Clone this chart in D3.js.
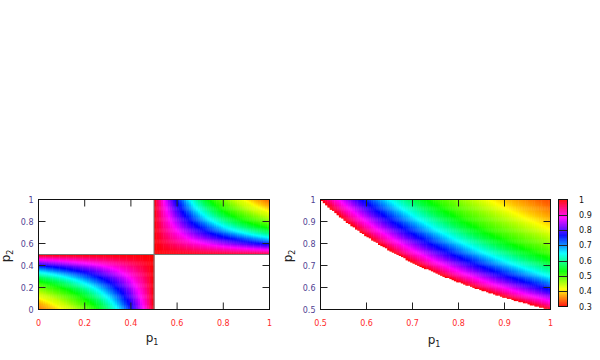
<!DOCTYPE html>
<html lang="en">
<head>
<meta charset="UTF-8">
<title>p1 p2 maps</title>
<script src="https://d3js.org/d3.v7.min.js"></script>
<style>
    body { margin: 0; background: #fff; }
    svg text { font-family: "DejaVu Sans", sans-serif; }
</style>
</head>
<body>
<svg width="600" height="360"></svg>
<script>
// right panel: value read along p1*p2 (white where p1*p2 < 0.5)
var prodSteps  = [0.5, 0.525, 0.55, 0.575, 0.6, 0.625, 0.65, 0.675, 0.7, 0.725, 0.75,
                  0.775, 0.8, 0.825, 0.85, 0.875, 0.9, 0.925, 0.95, 0.975, 1.0];
var prodValues = [1.0, 0.92, 0.86, 0.80, 0.75, 0.70, 0.65, 0.61, 0.57, 0.54, 0.51,
                  0.49, 0.47, 0.45, 0.43, 0.41, 0.39, 0.375, 0.36, 0.345, 0.335];

// left panel: value read along |p1-0.5|*|p2-0.5| (only where both on same side)
var quadSteps  = [0, 0.0125, 0.025, 0.0375, 0.05, 0.0625, 0.075, 0.0875, 0.1, 0.1125, 0.125,
                  0.1375, 0.15, 0.1625, 0.175, 0.1875, 0.2, 0.2125, 0.225, 0.2375, 0.25];
var quadValues = [1.0, 0.93, 0.87, 0.81, 0.76, 0.71, 0.66, 0.62, 0.58, 0.55, 0.52,
                  0.50, 0.48, 0.46, 0.44, 0.43, 0.41, 0.39, 0.375, 0.36, 0.345];

var leftTicks  = [0, 0.2, 0.4, 0.6, 0.8, 1];
var rightTicks = [0.5, 0.6, 0.7, 0.8, 0.9, 1];
var cbTicks    = [0.3, 0.4, 0.5, 0.6, 0.7, 0.8, 0.9, 1];

var xLabelColor = "#ff2a2a",
    yLabelColor = "#4f3f92";

var svg = d3.select("svg");

var hue = d3.scaleLinear().domain([0.3, 1]).range([0, 360]);
function color(v) { return d3.hsl(hue(v), 1, 0.5).toString(); }

var prodScale = d3.scaleLinear().domain(prodSteps).range(prodValues).clamp(true);
var quadScale = d3.scaleLinear().domain(quadSteps).range(quadValues).clamp(true);

var N = 100;

function heat(g, x, y, lo, hi, valueAt) {
    var cells = [];
    var step = (hi - lo) / N;
    for (var i = 0; i < N; i++) {
        for (var j = 0; j < N; j++) {
            var a = lo + i * step, b = lo + j * step;
            var v = valueAt(a + step / 2, b + step / 2);
            if (v != null) cells.push({a: a, b: b, v: v, s: step});
        }
    }
    g.selectAll("rect.cell")
        .data(cells)
        .enter().append("rect")
        .attr("class", "cell")
        .attr("x", function(d) { return x(d.a); })
        .attr("y", function(d) { return y(d.b + d.s); })
        .attr("width", function(d) { return x(d.a + d.s) - x(d.a) + 0.4; })
        .attr("height", function(d) { return y(d.b) - y(d.b + d.s) + 0.4; })
        .attr("fill", function(d) { return color(d.v); });
}

function frame(g, x, y, ticks) {
    var inner = ticks.slice(1, -1);
    var x0 = x.range()[0], x1 = x.range()[1], y0 = y.range()[0], y1 = y.range()[1];
    var t = 7;
    g.selectAll("line.xt")
        .data(inner).enter().append("line")
        .attr("x1", function(d) { return x(d); }).attr("x2", function(d) { return x(d); })
        .attr("y1", y0).attr("y2", y0 - t)
        .attr("stroke", "#222");
    g.selectAll("line.xt2")
        .data(inner).enter().append("line")
        .attr("x1", function(d) { return x(d); }).attr("x2", function(d) { return x(d); })
        .attr("y1", y1).attr("y2", y1 + t)
        .attr("stroke", "#222");
    g.selectAll("line.yt")
        .data(inner).enter().append("line")
        .attr("y1", function(d) { return y(d); }).attr("y2", function(d) { return y(d); })
        .attr("x1", x0).attr("x2", x0 + t)
        .attr("stroke", "#222");
    g.selectAll("line.yt2")
        .data(inner).enter().append("line")
        .attr("y1", function(d) { return y(d); }).attr("y2", function(d) { return y(d); })
        .attr("x1", x1).attr("x2", x1 - t)
        .attr("stroke", "#222");
    g.append("rect")
        .attr("x", x0).attr("y", y1)
        .attr("width", x1 - x0).attr("height", y0 - y1)
        .attr("fill", "none").attr("stroke", "#111");

    g.selectAll("text.xl")
        .data(ticks).enter().append("text")
        .attr("x", function(d) { return x(d); })
        .attr("y", 326)
        .attr("text-anchor", "middle")
        .attr("font-size", 8)
        .attr("fill", xLabelColor)
        .text(function(d) { return String(d); });
    g.selectAll("text.yl")
        .data(ticks).enter().append("text")
        .attr("x", x0 - 5)
        .attr("y", function(d) { return y(d) + 3; })
        .attr("text-anchor", "end")
        .attr("font-size", 8)
        .attr("fill", yLabelColor)
        .text(function(d) { return String(d); });
}

function axisName(g, px, py, sub, rotate) {
    var t = g.append("text")
        .attr("font-size", 12)
        .attr("fill", "#222")
        .attr("text-anchor", "middle")
        .attr("transform", "translate(" + px + "," + py + ")" + (rotate ? " rotate(-90)" : ""));
    t.append("tspan").text("p");
    t.append("tspan").attr("font-size", 8).attr("dy", 3).text(sub);
}

// ---- left panel
var xL = d3.scaleLinear().domain([0, 1]).range([38.5, 269.5]),
    yL = d3.scaleLinear().domain([0, 1]).range([309.5, 199.5]);
var gL = svg.append("g");
heat(gL, xL, yL, 0, 1, function(p1, p2) {
    if ((p1 < 0.5) !== (p2 < 0.5)) return null;
    return quadScale(Math.abs(p1 - 0.5) * Math.abs(p2 - 0.5));
});
gL.append("line")
    .attr("x1", xL(0.5)).attr("x2", xL(0.5)).attr("y1", yL(0)).attr("y2", yL(1))
    .attr("stroke", "#777");
gL.append("line")
    .attr("x1", xL(0)).attr("x2", xL(1)).attr("y1", yL(0.5)).attr("y2", yL(0.5))
    .attr("stroke", "#777");
frame(gL, xL, yL, leftTicks);
axisName(gL, 152, 342, "1", false);
axisName(gL, 10, 256, "2", true);

// ---- right panel
var xR = d3.scaleLinear().domain([0.5, 1]).range([320.5, 550.5]),
    yR = d3.scaleLinear().domain([0.5, 1]).range([309.5, 199.5]);
var gR = svg.append("g");
heat(gR, xR, yR, 0.5, 1, function(p1, p2) {
    var pr = p1 * p2;
    if (pr < 0.5) return null;
    return prodScale(pr);
});
frame(gR, xR, yR, rightTicks);
axisName(gR, 434, 344, "1", false);
axisName(gR, 292, 256, "2", true);

// ---- colour box
var cbX = 558.5, cbW = 9;
var yC = d3.scaleLinear().domain([0.3, 1]).range([306.5, 199.5]);
var gC = svg.append("g");
var cbVals = d3.range(0.3, 1, 0.0025);
gC.selectAll("rect.cb")
    .data(cbVals).enter().append("rect")
    .attr("x", cbX).attr("width", cbW)
    .attr("y", function(d) { return yC(d + 0.0025); })
    .attr("height", function(d) { return yC(d) - yC(d + 0.0025) + 0.3; })
    .attr("fill", function(d) { return color(d + 0.00125); });
gC.selectAll("line.cbt")
    .data(cbTicks.slice(1, -1)).enter().append("line")
    .attr("x1", cbX).attr("x2", cbX + cbW)
    .attr("y1", function(d) { return Math.round(yC(d)) + 0.5; })
    .attr("y2", function(d) { return Math.round(yC(d)) + 0.5; })
    .attr("stroke", "#222");
gC.append("rect")
    .attr("x", cbX).attr("y", yC(1))
    .attr("width", cbW).attr("height", yC(0.3) - yC(1))
    .attr("fill", "none").attr("stroke", "#111");
gC.selectAll("text.cbl")
    .data(cbTicks).enter().append("text")
    .attr("x", 579)
    .attr("y", function(d) { return yC(d) + 3; })
    .attr("font-size", 8)
    .attr("fill", "#111")
    .text(function(d) { return String(d); });
</script>
</body>
</html>
